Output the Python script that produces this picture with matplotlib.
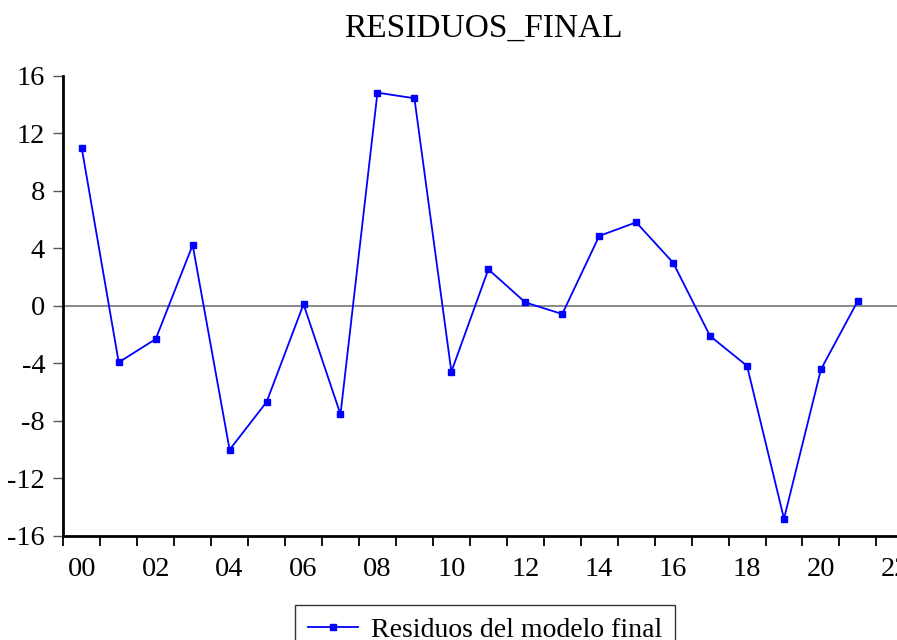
import matplotlib
matplotlib.use("Agg")
import matplotlib.pyplot as plt
from matplotlib.ticker import FixedLocator, NullFormatter

# annual residuals 2000-2021
years = list(range(2000, 2022))
residuos = [10.95, -3.94, -2.32, 4.22, -10.02, -6.70, 0.10, -7.56, 14.82, 14.43,
            -4.59, 2.53, 0.23, -0.58, 4.85, 5.80, 2.99, -2.11, -4.19, -14.82,
            -4.43, 0.35]
yticks = [-16, -12, -8, -4, 0, 4, 8, 12, 16]
label_years = list(range(2000, 2023, 2))

plt.rcParams['font.family'] = ['Liberation Serif', 'DejaVu Serif']

fig = plt.figure(figsize=(8.97, 6.4), dpi=100)
ax = fig.add_axes([63.3 / 897, 1 - 535.7 / 640, 1 - 63.3 / 897 + 0.01, 460 / 640])

# points sit in the middle of each year period
x = [y + 0.5 for y in years]
ax.axhline(0, color='#808080', lw=1.3, zorder=1)
ax.plot(x, residuos, color='#0000ff', lw=1.3, marker='s', ms=4.8,
        label='Residuos del modelo final', zorder=3)

ax.set_xlim(2000, 2022.8)
ax.set_ylim(-16, 16)
ax.set_yticks(yticks)
ax.set_yticklabels([str(v) for v in yticks], fontsize=20.5)

ax.xaxis.set_major_locator(FixedLocator(range(2000, 2023)))
ax.xaxis.set_major_formatter(NullFormatter())
ax.xaxis.set_minor_locator(FixedLocator([y + 0.5 for y in label_years]))
ax.set_xticklabels(['%02d' % (y % 100) for y in label_years], minor=True, fontsize=20.5)
ax.tick_params(axis='x', which='minor', length=0, pad=15)
ax.tick_params(axis='x', which='major', length=7, width=1.3, direction='out')
ax.tick_params(axis='y', length=7, width=1.0, direction='out', pad=6, color='#555555')

for s in ['top', 'right']:
    ax.spines[s].set_visible(False)
for s in ['left', 'bottom']:
    ax.spines[s].set_linewidth(2)

fig.text(483 / 897, 0.956, 'RESIDUOS_FINAL', ha='center', va='center', fontsize=24)

leg = fig.legend(loc='upper left', bbox_to_anchor=(295 / 897, 1 - 605 / 640),
                 borderaxespad=0, fontsize=20, frameon=True, fancybox=False,
                 edgecolor='black', handlelength=1.8, handletextpad=0.5,
                 borderpad=0.45, markerscale=0.9)
leg.get_frame().set_linewidth(1.0)

fig.savefig('out.png', dpi=100)
